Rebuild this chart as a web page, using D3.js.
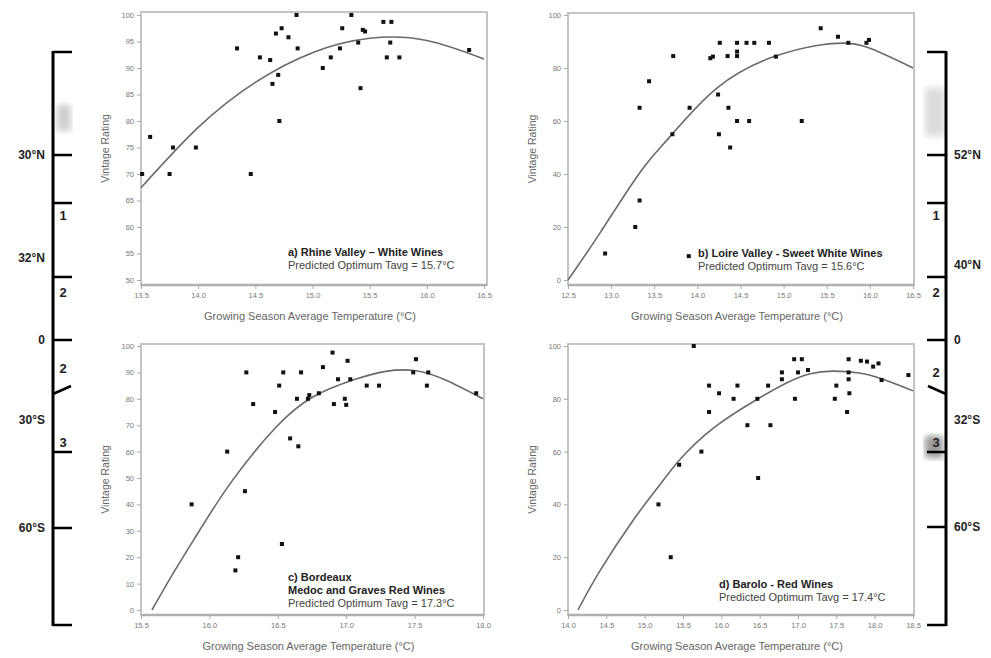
<!DOCTYPE html>
<html><head><meta charset="utf-8">
<script src="https://cdn.jsdelivr.net/npm/d3@7"></script>
<style>body{margin:0;background:#fff}svg{display:block}text{font-family:"Liberation Sans",Arial,sans-serif}</style>
</head><body><svg id="c" width="991" height="658"></svg>
<script>
// ---------- data ----------
const ptsA_x = [13.51,13.58,13.75,13.78,13.98,14.34,14.46,14.54,14.63,14.65,14.70,14.71,14.68,14.73,14.79,14.86,14.87,15.09,15.16,15.24,15.26,15.34,15.40,15.44,15.46,15.42,15.62,15.69,15.68,15.65,15.76,16.37];
const ptsA_y = [70,77,70,75,75,93.7,70,92,91.5,87,88.7,80,96.5,97.5,95.8,100,93.7,90,92,93.7,97.5,100,94.8,97.2,96.9,86.2,98.7,98.7,94.8,92,92,93.4];
const curveA_x = [13.5,14.0,14.5,15.0,15.5,16.0,16.5];
const curveA_y = [67.4,78.8,87.3,92.9,95.6,95.2,91.7];

const ptsB_x = [12.93,13.28,13.33,13.33,13.44,13.71,13.72,13.91,13.90,14.15,14.18,14.26,14.24,14.25,14.36,14.35,14.38,14.46,14.46,14.46,14.46,14.57,14.60,14.66,14.83,14.91,15.21,15.43,15.63,15.75,15.96,15.99];
const ptsB_y = [10,20,30,65,75,55,84.5,65,9,83.7,84.3,89.5,70,55,65,84.5,50,89.5,86.2,84.5,60,89.5,60,89.5,89.5,84.3,60,95,91.8,89.5,89.5,90.6];
const curveB_x = [12.5,12.87,13.33,13.68,14.23,14.88,15.42,15.69,15.97,16.5];
const curveB_y = [0,17.7,40.4,54.0,72.5,84.2,88.7,89.4,87.8,80.0];

const ptsC_x = [15.87,16.13,16.21,16.19,16.26,16.27,16.32,16.48,16.51,16.54,16.53,16.59,16.65,16.64,16.67,16.72,16.73,16.80,16.83,16.90,16.91,16.94,16.99,17.00,17.01,17.03,17.15,17.24,17.51,17.49,17.60,17.59,17.95];
const ptsC_y = [40,60,20,15,45,90,78,75,85,90,25,65,62,80,90,80,81.4,82.1,92,97.5,78,87.4,80,77.7,94.4,87.4,85,85,95,90,90,85,82.1];
const curveC_x = [15.58,15.75,15.93,16.17,16.49,16.76,17.05,17.29,17.51,17.73,18.0];
const curveC_y = [0,15.2,30.3,49.2,69.4,80.8,87.1,90.4,90.6,87.0,80.0];

const ptsD_x = [15.64,15.84,15.84,15.97,16.16,16.21,15.18,15.34,15.45,15.74,16.34,16.47,16.48,16.61,16.64,16.79,16.79,16.95,17.05,17.00,16.96,17.13,17.48,17.50,17.66,17.66,17.66,17.67,17.64,17.82,17.90,17.98,18.05,18.09,18.44];
const ptsD_y = [100,85,75,82.1,80,85,40,20,55,60,70,80,50,85,70,90,87.4,95,95,90,80,90.9,80,85,95,90,87.4,82.1,75,94.4,94.1,92.2,93.4,87.1,89.0];
const curveD_x = [14.13,14.42,14.85,15.16,15.46,15.90,16.42,16.85,17.16,17.45,17.8,18.1,18.5];
const curveD_y = [0,15,34,46,57,69,79,86,89.5,90.5,89.8,87.5,83];

const xTicksA = [13.5,14.0,14.5,15.0,15.5,16.0,16.5];
const yTicksA = [50,55,60,65,70,75,80,85,90,95,100];
const xTicksB = [12.5,13.0,13.5,14.0,14.5,15.0,15.5,16.0,16.5];
const yTicksB = [0,20,40,60,80,100];
const xTicksC = [15.5,16.0,16.5,17.0,17.5,18.0];
const yTicksC = [0,10,20,30,40,50,60,70,80,90,100];
const xTicksD = [14.0,14.5,15.0,15.5,16.0,16.5,17.0,17.5,18.0,18.5];
const yTicksD = [0,20,40,60,80,100];

const labelA = ["a) Rhine Valley – White Wines","Predicted Optimum Tavg = 15.7°C"];
const labelB = ["b) Loire Valley - Sweet White Wines","Predicted Optimum Tavg = 15.6°C"];
const labelC = ["c) Bordeaux","Medoc and Graves Red Wines","Predicted Optimum Tavg = 17.3°C"];
const labelD = ["d) Barolo - Red Wines","Predicted Optimum Tavg = 17.4°C"];

const xTitle = "Growing Season Average Temperature (°C)";
const yTitle = "Vintage Rating";

const leftLatLabels = ["30°N","32°N","0","30°S","60°S"];
const rightLatLabels = ["52°N","40°N","0","32°S","60°S"];
const sideNums = ["1","2","2","3"];

// ---------- drawing ----------
const svg = d3.select("#c");
const defs = svg.append("defs");
defs.append("filter").attr("id","blur").append("feGaussianBlur").attr("stdDeviation",3);

const bg = svg.append("g");
bg.append("rect").attr("x",57).attr("y",105).attr("width",14).attr("height",26).attr("fill","#cfcfcf").attr("filter","url(#blur)");
bg.append("rect").attr("x",925).attr("y",88).attr("width",20).attr("height",48).attr("fill","#dcdcdc").attr("filter","url(#blur)");
bg.append("rect").attr("x",925).attr("y",436).attr("width",18).attr("height",22).attr("fill","#9a9a9a").attr("filter","url(#blur)");

function latBar(x, dir, labels, tickYs, labelYs, numYs){
  const g = svg.append("g");
  g.append("line").attr("x1",x).attr("x2",x).attr("y1",51).attr("y2",626).attr("stroke","#000").attr("stroke-width",3);
  tickYs.forEach(y=>g.append("line").attr("x1",x).attr("x2",x+dir*19).attr("y1",y).attr("y2",y).attr("stroke","#000").attr("stroke-width",2.5));
  g.append("line").attr("x1",x).attr("x2",x+dir*18).attr("y1",394).attr("y2",386).attr("stroke","#000").attr("stroke-width",2.5);
  labels.forEach((t,i)=>g.append("text").attr("x",x-dir*8).attr("y",labelYs[i]+4)
     .attr("text-anchor",dir>0?"end":"start").attr("font-size",12).attr("font-weight","bold").attr("fill","#222").text(t));
  sideNums.forEach((t,i)=>g.append("text").attr("x",x+dir*10).attr("y",numYs[i]+5)
     .attr("text-anchor","middle").attr("font-size",13).attr("font-weight","bold").attr("fill","#222").text(t));
}
latBar(53, 1, leftLatLabels, [52,155,203,277,340,452,528,625], [155,258,340,420,528], [215,292,368,442]);
latBar(946, -1, rightLatLabels, [52,155,203,277,340,452,527,625], [155,265,340,420,527], [215,292,372,442]);

function panel(cfg){
  const x = d3.scaleLinear().domain(cfg.xd).range(cfg.xr);
  const y = d3.scaleLinear().domain(cfg.yd).range(cfg.yr);
  const g = svg.append("g");
  const f = cfg.frame;
  g.append("rect").attr("x",f[0]).attr("y",f[1]).attr("width",f[2]-f[0]).attr("height",f[3]-f[1])
    .attr("fill","#fff").attr("stroke","#c4c4c4").attr("stroke-width",2);
  g.append("line").attr("x1",f[0]).attr("x2",f[2]).attr("y1",f[3]).attr("y2",f[3]).attr("stroke","#b0b0b0").attr("stroke-width",2.5);
  const ax = g.append("g").attr("transform",`translate(0,${f[3]})`)
    .call(d3.axisBottom(x).tickValues(cfg.xt).tickFormat(d3.format(".1f")).tickSize(4).tickPadding(4));
  const ay = g.append("g").attr("transform",`translate(${f[0]},0)`)
    .call(d3.axisLeft(y).tickValues(cfg.yt).tickFormat(d3.format("d")).tickSize(4).tickPadding(3));
  [ax,ay].forEach(a=>{
    a.select(".domain").remove();
    a.selectAll("line").attr("stroke","#aaa");
    a.selectAll("text").attr("font-size",7.5).attr("fill","#777").attr("font-family","Liberation Sans, Arial, sans-serif");
  });
  const line = d3.line().x(d=>x(d[0])).y(d=>y(d[1])).curve(d3.curveNatural);
  g.append("path").datum(cfg.cx.map((v,i)=>[v,cfg.cy[i]])).attr("d",line)
    .attr("fill","none").attr("stroke","#6a6a6a").attr("stroke-width",1.6);
  g.selectAll("rect.pt").data(cfg.px.map((v,i)=>[v,cfg.py[i]])).enter().append("rect").attr("class","pt")
    .attr("x",d=>x(d[0])-2).attr("y",d=>y(d[1])-2).attr("width",4).attr("height",4).attr("fill","#111");
  g.append("text").attr("x",(f[0]+f[2])/2 - 4).attr("y",f[3]+35).attr("text-anchor","middle")
    .attr("font-size",11).attr("fill","#666").text(xTitle);
  g.append("text").attr("transform",`translate(${f[0]-32},${(f[1]+f[3])/2}) rotate(-90)`).attr("text-anchor","middle")
    .attr("font-size",10.5).attr("fill","#666").text(yTitle);
  cfg.lab.forEach((t,i)=>{
    const bold = i < cfg.lab.length-1;
    g.append("text").attr("x",cfg.lx).attr("y",cfg.ly+i*13).attr("font-size",11)
      .attr("font-weight",bold?"bold":"normal").attr("fill",bold?"#222":"#444").text(t);
  });
}

panel({xd:[13.5,16.5],xr:[141,484],yd:[50,100],yr:[280,15],frame:[141,12,487,285],
  xt:xTicksA,yt:yTicksA,px:ptsA_x,py:ptsA_y,cx:curveA_x,cy:curveA_y,lab:labelA,lx:288,ly:256});
panel({xd:[12.5,16.5],xr:[568,913],yd:[0,100],yr:[280,15],frame:[568,13,914,285],
  xt:xTicksB,yt:yTicksB,px:ptsB_x,py:ptsB_y,cx:curveB_x,cy:curveB_y,lab:labelB,lx:698,ly:257});
panel({xd:[15.5,18.0],xr:[141,483],yd:[0,100],yr:[610,346],frame:[141,344,484,615],
  xt:xTicksC,yt:yTicksC,px:ptsC_x,py:ptsC_y,cx:curveC_x,cy:curveC_y,lab:labelC,lx:288,ly:581});
panel({xd:[14.0,18.5],xr:[568,913],yd:[0,100],yr:[610,346],frame:[568,344,914,615],
  xt:xTicksD,yt:yTicksD,px:ptsD_x,py:ptsD_y,cx:curveD_x,cy:curveD_y,lab:labelD,lx:719,ly:588});
</script></body></html>
